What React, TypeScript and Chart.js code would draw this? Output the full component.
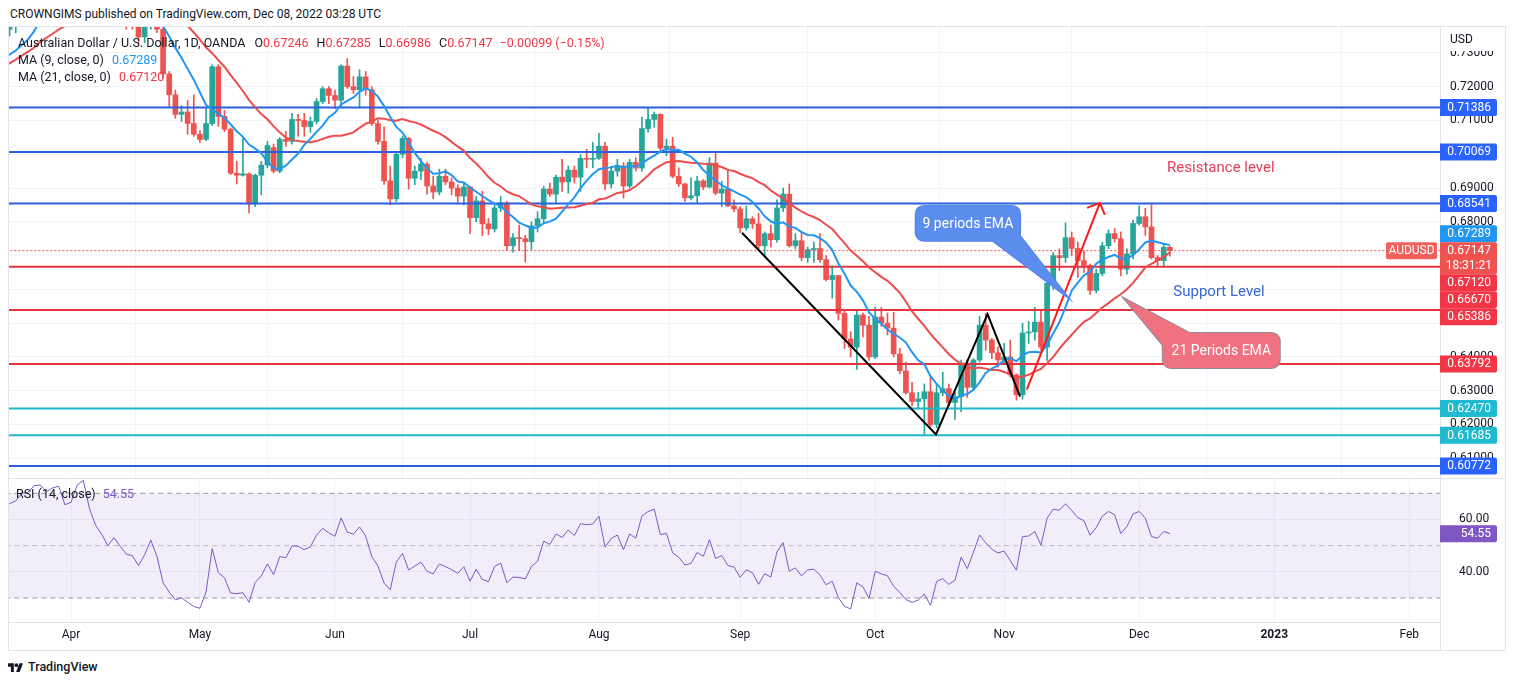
import { useEffect, useRef } from "react";
import { Chart, registerables } from "chart.js";

Chart.register(...registerables);
Chart.defaults.font.family = "Roboto, 'Noto Sans', sans-serif";

// AUD/USD daily (OANDA). Bar 0 = 18 Mar 2022, bar 189 = 8 Dec 2022
const opens = [
  0.7370, 0.7395, 0.7410, 0.7455, 0.7460, 0.7500, 0.7505, 0.7490, 0.7510, 0.7520,
  0.7480, 0.7490, 0.7580, 0.7610, 0.7540, 0.7490, 0.7460, 0.7420, 0.7450, 0.7420,
  0.7390, 0.7385, 0.7347, 0.7380, 0.7430, 0.7370, 0.7238, 0.7176, 0.7118, 0.7125,
  0.7091, 0.7059, 0.7044, 0.7091, 0.7259, 0.7112, 0.7074, 0.6944, 0.6938, 0.6942,
  0.6853, 0.6938, 0.6968, 0.7020, 0.6950, 0.7044, 0.7038, 0.7103, 0.7100, 0.7082,
  0.7097, 0.7156, 0.7194, 0.7174, 0.7160, 0.7261, 0.7200, 0.7191, 0.7229, 0.7191,
  0.7091, 0.7038, 0.6921, 0.6868, 0.7000, 0.7047, 0.6929, 0.6950, 0.6971, 0.6906,
  0.6888, 0.6935, 0.6918, 0.6900, 0.6876, 0.6903, 0.6812, 0.6862, 0.6794, 0.6779,
  0.6841, 0.6856, 0.6729, 0.6753, 0.6750, 0.6741, 0.6788, 0.6809, 0.6897, 0.6882,
  0.6932, 0.6918, 0.6953, 0.6932, 0.6988, 0.6985, 0.6988, 0.7024, 0.6912, 0.6950,
  0.6965, 0.6906, 0.6976, 0.6959, 0.7076, 0.7103, 0.7118, 0.7018, 0.7024, 0.6935,
  0.6912, 0.6871, 0.6877, 0.6921, 0.6903, 0.6974, 0.6885, 0.6897, 0.6847, 0.6838,
  0.6782, 0.6809, 0.6794, 0.6729, 0.6765, 0.6747, 0.6841, 0.6882, 0.6729, 0.6744,
  0.6694, 0.6718, 0.6721, 0.6688, 0.6629, 0.6641, 0.6529, 0.6453, 0.6429, 0.6524,
  0.6494, 0.6400, 0.6518, 0.6500, 0.6485, 0.6409, 0.6359, 0.6294, 0.6268, 0.6276,
  0.6297, 0.6200, 0.6294, 0.6306, 0.6265, 0.6282, 0.6382, 0.6310, 0.6391, 0.6494,
  0.6450, 0.6412, 0.6391, 0.6400, 0.6347, 0.6288, 0.6471, 0.6474, 0.6503, 0.6429,
  0.6618, 0.6700, 0.6694, 0.6753, 0.6721, 0.6685, 0.6671, 0.6597, 0.6647, 0.6729,
  0.6765, 0.6750, 0.6660, 0.6705, 0.6795, 0.6815, 0.6785, 0.6694, 0.6685, 0.67246,
];
const highs = [
  0.7410, 0.7415, 0.7460, 0.7475, 0.7510, 0.7520, 0.7520, 0.7530, 0.7540, 0.7540,
  0.7510, 0.7590, 0.7660, 0.7620, 0.7550, 0.7500, 0.7470, 0.7480, 0.7460, 0.7450,
  0.7410, 0.7395, 0.7390, 0.7440, 0.7455, 0.7380, 0.7245, 0.7190, 0.7144, 0.7159,
  0.7176, 0.7070, 0.7135, 0.7265, 0.7265, 0.7130, 0.7078, 0.6979, 0.7047, 0.6945,
  0.6941, 0.6979, 0.7038, 0.7030, 0.7050, 0.7068, 0.7121, 0.7118, 0.7121, 0.7110,
  0.7165, 0.7200, 0.7200, 0.7190, 0.7265, 0.7283, 0.7230, 0.7250, 0.7245, 0.7200,
  0.7100, 0.7081, 0.6965, 0.7003, 0.7053, 0.7050, 0.6965, 0.6988, 0.6975, 0.6935,
  0.6956, 0.6956, 0.6930, 0.6910, 0.6915, 0.6905, 0.6875, 0.6891, 0.6810, 0.6850,
  0.6875, 0.6860, 0.6765, 0.6790, 0.6760, 0.6800, 0.6830, 0.6905, 0.6915, 0.6938,
  0.6985, 0.6965, 0.6965, 0.6999, 0.7015, 0.7035, 0.7062, 0.7035, 0.6965, 0.6985,
  0.6975, 0.6985, 0.6990, 0.7110, 0.7136, 0.7125, 0.7120, 0.7045, 0.7050, 0.6960,
  0.6915, 0.6930, 0.6935, 0.6925, 0.6990, 0.7005, 0.6920, 0.6955, 0.6865, 0.6845,
  0.6847, 0.6815, 0.6826, 0.6770, 0.6790, 0.6865, 0.6900, 0.6912, 0.6765, 0.6772,
  0.6725, 0.6740, 0.6765, 0.6700, 0.6670, 0.6641, 0.6535, 0.6475, 0.6535, 0.6530,
  0.6520, 0.6547, 0.6547, 0.6530, 0.6532, 0.6425, 0.6385, 0.6325, 0.6295, 0.6320,
  0.6341, 0.6320, 0.6355, 0.6320, 0.6295, 0.6391, 0.6391, 0.6395, 0.6520, 0.6530,
  0.6455, 0.6430, 0.6440, 0.6450, 0.6350, 0.6500, 0.6505, 0.6547, 0.6535, 0.6630,
  0.6709, 0.6720, 0.6797, 0.6770, 0.6740, 0.6715, 0.6675, 0.6660, 0.6740, 0.6776,
  0.6780, 0.6770, 0.6720, 0.6805, 0.6847, 0.6840, 0.6851, 0.6700, 0.6735, 0.67285,
];
const lows = [
  0.7350, 0.7360, 0.7390, 0.7440, 0.7440, 0.7470, 0.7460, 0.7470, 0.7490, 0.7470,
  0.7460, 0.7480, 0.7570, 0.7520, 0.7470, 0.7440, 0.7400, 0.7390, 0.7400, 0.7370,
  0.7370, 0.7330, 0.7330, 0.7370, 0.7360, 0.7225, 0.7141, 0.7106, 0.7097, 0.7059,
  0.7053, 0.7035, 0.7040, 0.7085, 0.7082, 0.7067, 0.6940, 0.6912, 0.6935, 0.6826,
  0.6845, 0.6880, 0.6960, 0.6945, 0.6945, 0.7023, 0.7030, 0.7053, 0.7053, 0.7065,
  0.7090, 0.7150, 0.7150, 0.7135, 0.7140, 0.7195, 0.7180, 0.7141, 0.7175, 0.7085,
  0.7030, 0.6911, 0.6850, 0.6860, 0.6990, 0.6897, 0.6910, 0.6925, 0.6882, 0.6868,
  0.6880, 0.6910, 0.6880, 0.6856, 0.6850, 0.6765, 0.6800, 0.6759, 0.6762, 0.6770,
  0.6830, 0.6715, 0.6710, 0.6715, 0.6681, 0.6718, 0.6770, 0.6795, 0.6875, 0.6855,
  0.6890, 0.6885, 0.6915, 0.6890, 0.6960, 0.6960, 0.6985, 0.6895, 0.6900, 0.6935,
  0.6870, 0.6900, 0.6950, 0.6950, 0.7065, 0.7080, 0.7010, 0.6995, 0.6930, 0.6905,
  0.6860, 0.6865, 0.6855, 0.6895, 0.6900, 0.6880, 0.6845, 0.6845, 0.6830, 0.6768,
  0.6775, 0.6780, 0.6720, 0.6700, 0.6725, 0.6740, 0.6830, 0.6725, 0.6720, 0.6685,
  0.6680, 0.6680, 0.6680, 0.6625, 0.6574, 0.6509, 0.6425, 0.6400, 0.6363, 0.6459,
  0.6390, 0.6395, 0.6490, 0.6465, 0.6400, 0.6350, 0.6290, 0.6255, 0.6250, 0.6170,
  0.6194, 0.6190, 0.6285, 0.6255, 0.6215, 0.6238, 0.6280, 0.6300, 0.6385, 0.6420,
  0.6395, 0.6370, 0.6380, 0.6340, 0.6272, 0.6275, 0.6440, 0.6450, 0.6420, 0.6390,
  0.6600, 0.6655, 0.6680, 0.6700, 0.6635, 0.6650, 0.6585, 0.6590, 0.6640, 0.6720,
  0.6740, 0.6640, 0.6645, 0.6690, 0.6790, 0.6760, 0.6690, 0.6670, 0.6668, 0.66986,
];
const closes = [
  0.7395, 0.7410, 0.7455, 0.7460, 0.7500, 0.7505, 0.7490, 0.7510, 0.7520, 0.7480,
  0.7490, 0.7580, 0.7610, 0.7540, 0.7490, 0.7460, 0.7420, 0.7450, 0.7420, 0.7390,
  0.7385, 0.7347, 0.7380, 0.7430, 0.7370, 0.7238, 0.7176, 0.7118, 0.7125, 0.7091,
  0.7059, 0.7044, 0.7091, 0.7259, 0.7112, 0.7074, 0.6944, 0.6938, 0.6942, 0.6853,
  0.6938, 0.6968, 0.7026, 0.6950, 0.7044, 0.7038, 0.7103, 0.7100, 0.7082, 0.7097,
  0.7156, 0.7194, 0.7174, 0.7160, 0.7261, 0.7200, 0.7191, 0.7229, 0.7191, 0.7091,
  0.7038, 0.6921, 0.6868, 0.7000, 0.7047, 0.6929, 0.6950, 0.6971, 0.6906, 0.6888,
  0.6935, 0.6918, 0.6900, 0.6876, 0.6903, 0.6812, 0.6862, 0.6794, 0.6779, 0.6841,
  0.6856, 0.6729, 0.6753, 0.6750, 0.6741, 0.6788, 0.6809, 0.6897, 0.6882, 0.6932,
  0.6918, 0.6953, 0.6932, 0.6988, 0.6985, 0.6988, 0.7024, 0.6912, 0.6950, 0.6965,
  0.6906, 0.6976, 0.6959, 0.7076, 0.7103, 0.7118, 0.7018, 0.7024, 0.6935, 0.6912,
  0.6871, 0.6877, 0.6921, 0.6903, 0.6974, 0.6885, 0.6897, 0.6847, 0.6838, 0.6782,
  0.6809, 0.6794, 0.6729, 0.6765, 0.6747, 0.6841, 0.6882, 0.6729, 0.6744, 0.6694,
  0.6718, 0.6721, 0.6688, 0.6629, 0.6641, 0.6529, 0.6453, 0.6429, 0.6524, 0.6494,
  0.6400, 0.6518, 0.6500, 0.6485, 0.6409, 0.6359, 0.6294, 0.6268, 0.6276, 0.6297,
  0.6200, 0.6294, 0.6306, 0.6265, 0.6282, 0.6382, 0.6310, 0.6391, 0.6494, 0.6450,
  0.6412, 0.6391, 0.6400, 0.6347, 0.6288, 0.6471, 0.6474, 0.6503, 0.6429, 0.6618,
  0.6700, 0.6694, 0.6753, 0.6721, 0.6685, 0.6671, 0.6597, 0.6647, 0.6729, 0.6765,
  0.6750, 0.6660, 0.6705, 0.6795, 0.6815, 0.6785, 0.6694, 0.6685, 0.67246, 0.67147,
];
// closes before bar 0 (Feb - 17 Mar), only used to seed the MAs and the RSI
const warmupCloses = [
  0.7090, 0.7150, 0.7140, 0.7070, 0.7070, 0.7130, 0.7165, 0.7165, 0.7135, 0.7125,
  0.7145, 0.7180, 0.7190, 0.7185, 0.7200, 0.7220, 0.7240, 0.7160, 0.7225, 0.7265,
  0.7250, 0.7280, 0.7300, 0.7345, 0.7330, 0.7300, 0.7310, 0.7310, 0.7280, 0.7200,
  0.7190, 0.7280, 0.7390,
];

const monthTicks = [10, 31, 53, 75, 96, 119, 141, 162, 184, 206, 228];
const monthLabels = ["Apr", "May", "Jun", "Jul", "Aug", "Sep", "Oct", "Nov", "Dec", "2023", "Feb"];
const priceTicks = [0.61, 0.62, 0.63, 0.64, 0.65, 0.66, 0.67, 0.68, 0.69, 0.7, 0.71, 0.72, 0.73];
const hiddenPriceTicks = [0.65, 0.66, 0.67, 0.7];
const rsiTicks = [40, 60];
const rsiBands = [70, 50, 30];

const blueLevels = [0.71386, 0.70069, 0.68541, 0.60772];
const redLevels = [0.6667, 0.65386, 0.63792];
const tealLevels = [0.6247, 0.61685];

const ma9Last = 0.67289;
const ma21Last = 0.6712;
const rsiLast = 54.55;
const countdown = "18:31:21";

// hand drawn lines, as [bar, price]
const wedgeLine = [[119.3, 0.67676], [150.9, 0.61706], [159.3, 0.65265], [164.6, 0.62824]];
const arrowLine = [[165.7, 0.63029], [177.6, 0.68559]];
const arrowHead = [[175.5, 0.68412], [177.6, 0.68559], [178.4, 0.68206]];

const callouts = [
  {
    text: "9 periods EMA",
    box: [147.6, 0.68471, 164.6, 0.67441],
    tail: [[159.7, 0.675], [164.2, 0.67676], [172.4, 0.65765]],
    fill: "#5b8def",
    stroke: "#4f82ea",
  },
  {
    text: "21 Periods EMA",
    box: [187.85, 0.64706, 206.9, 0.63676],
    tail: [[187.85, 0.64353], [192.25, 0.64706], [181.5, 0.65735]],
    fill: "#f0717f",
    stroke: "#8c8f99",
  },
];
const chartTexts = [
  { text: "Resistance level", bar: 197.3, price: 0.69588, color: "#e0405a" },
  { text: "Support Level", bar: 197.0, price: 0.65912, color: "#3766d6" },
];

const priceMin = 0.60416;
const priceMax = 0.73767;
const rsiMin = 20.83;
const rsiMax = 75.85;
const barMin = -0.1;
const barMax = 233;

const upColor = "#26a69a";
const downColor = "#ef5350";
const ma9Color = "#2196f3";
const ma21Color = "#ee4b4b";
const levelBlue = "#2b5fdc";
const levelRed = "#e5343f";
const levelTeal = "#1fb8cb";
const gridColor = "#f0f3fa";
const borderColor = "#e0e3eb";
const rsiColor = "#7e57c2";
const textColor = "#131722";

const allCloses = [...warmupCloses, ...closes];
const shift = warmupCloses.length;

function sma(period: number) {
  const out: { x: number; y: number }[] = [];
  for (let k = period - 1; k < allCloses.length; k++) {
    let s = 0;
    for (let j = k - period + 1; j <= k; j++) s += allCloses[j];
    out.push({ x: k - shift, y: s / period });
  }
  return out;
}

function rsi(period: number) {
  let gain = 0;
  let loss = 0;
  for (let k = 1; k <= period; k++) {
    const d = allCloses[k] - allCloses[k - 1];
    if (d > 0) gain += d;
    else loss -= d;
  }
  gain /= period;
  loss /= period;
  const out: { x: number; y: number }[] = [];
  for (let k = period + 1; k < allCloses.length; k++) {
    const d = allCloses[k] - allCloses[k - 1];
    gain = (gain * (period - 1) + Math.max(d, 0)) / period;
    loss = (loss * (period - 1) + Math.max(-d, 0)) / period;
    out.push({ x: k - shift, y: 100 - 100 / (1 + gain / loss) });
  }
  return out;
}

const hLine = (v: number) => [
  { x: barMin - 5, y: v },
  { x: barMax + 5, y: v },
];
const pts = (list: number[][]) => list.map(([x, y]) => ({ x, y }));

const monthAxisTicks = (s: any) => {
  s.ticks = monthTicks.map((v) => ({ value: v }));
};

// price tags on the right axis; the last price keeps its place, the others move away from it
const axisTagsPlugin = {
  id: "axisTags",
  afterDraw(chart: any) {
    const { ctx, chartArea, scales } = chart;
    const y = scales.y;
    const left = chartArea.right;
    const last = closes[closes.length - 1];
    const tags = [
      ...blueLevels.map((v) => ({ value: v, color: "#2962ff", sub: "" })),
      ...redLevels.map((v) => ({ value: v, color: "#f23645", sub: "" })),
      ...tealLevels.map((v) => ({ value: v, color: "#1fbad0", sub: "" })),
      { value: ma9Last, color: ma9Color, sub: "" },
      { value: ma21Last, color: "#f23645", sub: "" },
      { value: last, color: downColor, sub: countdown },
    ]
      .sort((a, b) => b.value - a.value)
      .map((t) => ({ ...t, h: t.sub ? 32 : 17, top: y.getPixelForValue(t.value) - 8.5 }));

    const anchor = tags.findIndex((t) => t.sub);
    for (let i = anchor - 1; i >= 0; i--) {
      tags[i].top = Math.min(tags[i].top, tags[i + 1].top - tags[i].h);
    }
    for (let i = anchor + 1; i < tags.length; i++) {
      tags[i].top = Math.max(tags[i].top, tags[i - 1].top + tags[i - 1].h);
    }

    ctx.save();
    ctx.fillStyle = "#ffffff";
    ctx.fillRect(left + 1, chartArea.top, 63, 24);
    ctx.font = "12px Roboto";
    ctx.textBaseline = "middle";
    ctx.fillStyle = textColor;
    ctx.textAlign = "left";
    ctx.fillText("USD", left + 10, chartArea.top + 13);

    for (const t of tags) {
      ctx.fillStyle = t.color;
      ctx.beginPath();
      ctx.roundRect(left, t.top, 57, t.h, [0, 2, 2, 0]);
      ctx.fill();
      ctx.fillStyle = "#ffffff";
      ctx.textAlign = "right";
      ctx.fillText(t.value.toFixed(5), left + 51, t.top + 9);
      if (t.sub) {
        ctx.fillText(t.sub, left + 52, t.top + 24);
        ctx.fillStyle = "#f0605d";
        ctx.beginPath();
        ctx.roundRect(left - 54, t.top, 51, 17, 2);
        ctx.fill();
        ctx.fillStyle = "#ffffff";
        ctx.textAlign = "center";
        ctx.fillText("AUDUSD", left - 28.5, t.top + 9);
      }
    }
    ctx.restore();
  },
};

const annotationsPlugin = {
  id: "annotations",
  afterDatasetsDraw(chart: any) {
    const { ctx, scales } = chart;
    const P = (b: number, p: number) => [scales.x.getPixelForValue(b), scales.y.getPixelForValue(p)];
    ctx.save();
    for (const c of callouts) {
      const [x0, y0] = P(c.box[0], c.box[1]);
      const [x1, y1] = P(c.box[2], c.box[3]);
      const tail = c.tail.map(([b, p]) => P(b, p));
      const tailPath = () => {
        ctx.beginPath();
        ctx.moveTo(tail[0][0], tail[0][1]);
        ctx.lineTo(tail[2][0], tail[2][1]);
        ctx.lineTo(tail[1][0], tail[1][1]);
        ctx.closePath();
      };
      const boxPath = () => {
        ctx.beginPath();
        ctx.roundRect(x0, y0, x1 - x0, y1 - y0, 8);
      };
      ctx.lineWidth = 2;
      ctx.strokeStyle = c.stroke;
      tailPath();
      ctx.stroke();
      boxPath();
      ctx.stroke();
      ctx.fillStyle = c.fill;
      tailPath();
      ctx.fill();
      boxPath();
      ctx.fill();
      ctx.fillStyle = "#ffffff";
      ctx.font = "14px Roboto";
      ctx.textAlign = "center";
      ctx.textBaseline = "middle";
      ctx.fillText(c.text, (x0 + x1) / 2, (y0 + y1) / 2 + 1);
    }
    for (const t of chartTexts) {
      const [tx, ty] = P(t.bar, t.price);
      ctx.fillStyle = t.color;
      ctx.font = "15px Roboto";
      ctx.textAlign = "center";
      ctx.textBaseline = "middle";
      ctx.fillText(t.text, tx, ty);
    }
    ctx.restore();
  },
};

const rsiTagPlugin = {
  id: "rsiTag",
  afterDraw(chart: any) {
    const { ctx, chartArea, scales } = chart;
    const top = scales.y.getPixelForValue(rsiLast) - 8.5;
    ctx.save();
    ctx.fillStyle = rsiColor;
    ctx.beginPath();
    ctx.roundRect(chartArea.right, top, 57, 17, [0, 2, 2, 0]);
    ctx.fill();
    ctx.fillStyle = "#ffffff";
    ctx.font = "12px Roboto";
    ctx.textAlign = "right";
    ctx.textBaseline = "middle";
    ctx.fillText(rsiLast.toFixed(2), chartArea.right + 51, top + 9);
    ctx.restore();
  },
};

function TvLogo() {
  return (
    <svg width="15" height="11" viewBox="0 0 36 26" style={{ marginRight: 5 }}>
      <path d="M14 24H7V11H0V3h14v21z" fill={textColor} />
      <circle cx="20" cy="7.5" r="4.5" fill={textColor} />
      <path d="M28 24h-8.5l8-21h8.5L28 24z" fill={textColor} />
    </svg>
  );
}

export default function App() {
  const mainRef = useRef<HTMLCanvasElement>(null);
  const rsiRef = useRef<HTMLCanvasElement>(null);

  useEffect(() => {
    if (!mainRef.current || !rsiRef.current) return;

    const idx = closes.map((_, i) => i);
    const colors = idx.map((i) => (closes[i] >= opens[i] ? upColor : downColor));
    const levelSet = (v: number, color: string) => ({
      type: "line" as const,
      data: hLine(v),
      borderColor: color,
      borderWidth: 2,
      pointRadius: 0,
      order: 4,
    });

    const main = new Chart(mainRef.current, {
      type: "bar",
      data: {
        datasets: [
          {
            type: "bar",
            data: idx.map((i) => ({ x: i, y: [lows[i], highs[i]] })) as any,
            backgroundColor: colors,
            barThickness: 1,
            grouped: false,
            minBarLength: 1,
            order: 6,
          },
          {
            type: "bar",
            data: idx.map((i) => ({ x: i, y: [opens[i], closes[i]] })) as any,
            backgroundColor: colors,
            barThickness: 5,
            grouped: false,
            minBarLength: 1,
            order: 5,
          },
          ...blueLevels.map((v) => levelSet(v, levelBlue)),
          ...redLevels.map((v) => levelSet(v, levelRed)),
          ...tealLevels.map((v) => levelSet(v, levelTeal)),
          {
            type: "line",
            data: hLine(closes[closes.length - 1]),
            borderColor: downColor,
            borderWidth: 1,
            borderDash: [2, 2],
            pointRadius: 0,
            order: 4,
          },
          {
            type: "line",
            data: sma(21),
            borderColor: ma21Color,
            borderWidth: 2,
            pointRadius: 0,
            order: 3,
          },
          {
            type: "line",
            data: sma(9),
            borderColor: ma9Color,
            borderWidth: 2,
            pointRadius: 0,
            order: 2,
          },
          {
            type: "line",
            data: pts(wedgeLine),
            borderColor: "#000000",
            borderWidth: 2,
            pointRadius: 0,
            order: 1,
          },
          {
            type: "line",
            data: pts(arrowLine),
            borderColor: "#ff1a1a",
            borderWidth: 2,
            pointRadius: 0,
            order: 1,
          },
          {
            type: "line",
            data: pts(arrowHead),
            borderColor: "#ff1a1a",
            borderWidth: 2,
            pointRadius: 0,
            order: 1,
          },
        ] as any,
      },
      options: {
        responsive: false,
        animation: false,
        events: [],
        layout: { padding: 0 },
        plugins: { legend: { display: false }, tooltip: { enabled: false } },
        scales: {
          x: {
            type: "linear",
            min: barMin,
            max: barMax,
            offset: false,
            afterBuildTicks: monthAxisTicks,
            afterFit: (s: any) => {
              s.height = 0;
              s.paddingLeft = 0;
              s.paddingRight = 0;
            },
            ticks: { display: false },
            grid: { color: gridColor, drawTicks: false },
            border: { display: false },
          },
          y: {
            position: "right",
            min: priceMin,
            max: priceMax,
            afterBuildTicks: (s: any) => {
              s.ticks = priceTicks.map((v) => ({ value: v }));
            },
            afterFit: (s: any) => {
              s.width = 64;
              s.paddingTop = 0;
              s.paddingBottom = 0;
            },
            ticks: {
              padding: 10,
              color: textColor,
              font: { size: 12 },
              callback: (v: any) =>
                hiddenPriceTicks.some((h) => Math.abs(h - v) < 1e-6) ? "" : Number(v).toFixed(5),
            },
            grid: { color: gridColor, drawTicks: false },
            border: { color: borderColor },
          },
        },
      },
      plugins: [annotationsPlugin, axisTagsPlugin],
    });

    const rsiChart = new Chart(rsiRef.current, {
      type: "line",
      data: {
        datasets: [
          {
            data: hLine(rsiBands[0]),
            borderWidth: 0,
            borderColor: "rgba(0,0,0,0)",
            backgroundColor: "rgba(126,87,194,0.1)",
            fill: { value: rsiBands[2] },
            pointRadius: 0,
            order: 5,
          },
          ...rsiBands.map((v, i) => ({
            data: hLine(v),
            borderColor: i === 1 ? "rgba(120,123,134,0.45)" : "rgba(120,123,134,0.75)",
            borderWidth: 1,
            borderDash: [5, 4],
            pointRadius: 0,
            fill: false,
            order: 4,
          })),
          {
            data: rsi(14),
            borderColor: rsiColor,
            borderWidth: 1,
            pointRadius: 0,
            fill: false,
            order: 1,
          },
        ] as any,
      },
      options: {
        responsive: false,
        animation: false,
        events: [],
        layout: { padding: 0 },
        plugins: { legend: { display: false }, tooltip: { enabled: false } },
        scales: {
          x: {
            type: "linear",
            min: barMin,
            max: barMax,
            offset: false,
            afterBuildTicks: monthAxisTicks,
            afterFit: (s: any) => {
              s.height = 28;
              s.paddingLeft = 0;
              s.paddingRight = 0;
            },
            ticks: {
              padding: 6,
              color: textColor,
              autoSkip: false,
              maxRotation: 0,
              font: (c: any) => ({ size: 12, weight: c.tick && c.tick.value === 206 ? "bold" : "normal" }),
              callback: (v: any) => monthLabels[monthTicks.indexOf(v)] ?? "",
            },
            grid: { color: gridColor, drawTicks: false },
            border: { color: borderColor },
          },
          y: {
            position: "right",
            min: rsiMin,
            max: rsiMax,
            afterBuildTicks: (s: any) => {
              s.ticks = rsiTicks.map((v) => ({ value: v }));
            },
            afterFit: (s: any) => {
              s.width = 64;
              s.paddingTop = 0;
              s.paddingBottom = 0;
            },
            ticks: {
              padding: 19,
              color: textColor,
              font: { size: 12 },
              callback: (v: any) => Number(v).toFixed(2),
            },
            grid: { color: gridColor, drawTicks: false },
            border: { color: borderColor },
          },
        },
      },
      plugins: [rsiTagPlugin],
    });

    return () => {
      main.destroy();
      rsiChart.destroy();
    };
  }, []);

  const n = closes.length - 1;
  const change = closes[n] - closes[n - 1];
  const pct = (change / closes[n - 1]) * 100;
  const sign = change < 0 ? "\u2212" : "+";
  const ohlcColor = change < 0 ? "#f23645" : upColor;
  const font = "Roboto, 'Noto Sans', sans-serif";

  return (
    <div
      style={{
        position: "absolute",
        left: 0,
        top: 0,
        width: 1514,
        height: 685,
        background: "#ffffff",
        overflow: "hidden",
        fontFamily: font,
        color: textColor,
      }}
    >
      <div style={{ position: "absolute", left: 10, top: 6, fontSize: 12, lineHeight: "16px" }}>
        CROWNGIMS published on TradingView.com, Dec 08, 2022 03:28 UTC
      </div>

      <div
        style={{
          position: "absolute",
          left: 8,
          top: 26,
          width: 1496,
          height: 623,
          border: `1px solid ${borderColor}`,
        }}
      />
      <div style={{ position: "absolute", left: 8, top: 478, width: 1497, height: 1, background: borderColor }} />
      <div style={{ position: "absolute", left: 1440, top: 26, width: 1, height: 624, background: borderColor }} />

      <div style={{ position: "absolute", left: 9, top: 27, width: 1495, height: 451 }}>
        <canvas ref={mainRef} width={1495} height={451} style={{ width: 1495, height: 451, display: "block" }} />
      </div>
      <div style={{ position: "absolute", left: 9, top: 478, width: 1495, height: 172 }}>
        <canvas ref={rsiRef} width={1495} height={172} style={{ width: 1495, height: 172, display: "block" }} />
      </div>

      <div style={{ position: "absolute", left: 18, top: 34, fontSize: 12.5, lineHeight: "17px", whiteSpace: "nowrap" }}>
        <div>
          Australian Dollar / U.S. Dollar, 1D, OANDA
          <span style={{ marginLeft: 9 }}>O</span>
          <span style={{ color: ohlcColor }}>{opens[n].toFixed(5)}</span>
          <span style={{ marginLeft: 8 }}>H</span>
          <span style={{ color: ohlcColor }}>{highs[n].toFixed(5)}</span>
          <span style={{ marginLeft: 8 }}>L</span>
          <span style={{ color: ohlcColor }}>{lows[n].toFixed(5)}</span>
          <span style={{ marginLeft: 8 }}>C</span>
          <span style={{ color: ohlcColor }}>{closes[n].toFixed(5)}</span>
          <span style={{ marginLeft: 7, color: ohlcColor }}>
            {sign}
            {Math.abs(change).toFixed(5)} ({sign}
            {Math.abs(pct).toFixed(2)}%)
          </span>
        </div>
        <div>
          MA (9, close, 0)<span style={{ marginLeft: 8, color: ma9Color }}>{ma9Last.toFixed(5)}</span>
        </div>
        <div>
          MA (21, close, 0)<span style={{ marginLeft: 8, color: "#f23645" }}>{ma21Last.toFixed(5)}</span>
        </div>
      </div>

      <div style={{ position: "absolute", left: 16, top: 486, fontSize: 12.5, lineHeight: "16px", whiteSpace: "nowrap" }}>
        RSI (14, close)<span style={{ marginLeft: 7, color: rsiColor }}>{rsiLast.toFixed(2)}</span>
      </div>

      <div
        style={{
          position: "absolute",
          left: 8,
          top: 659,
          display: "flex",
          alignItems: "center",
          fontSize: 12.5,
          lineHeight: "16px",
          fontWeight: 500,
        }}
      >
        <TvLogo />
        TradingView
      </div>
    </div>
  );
}
